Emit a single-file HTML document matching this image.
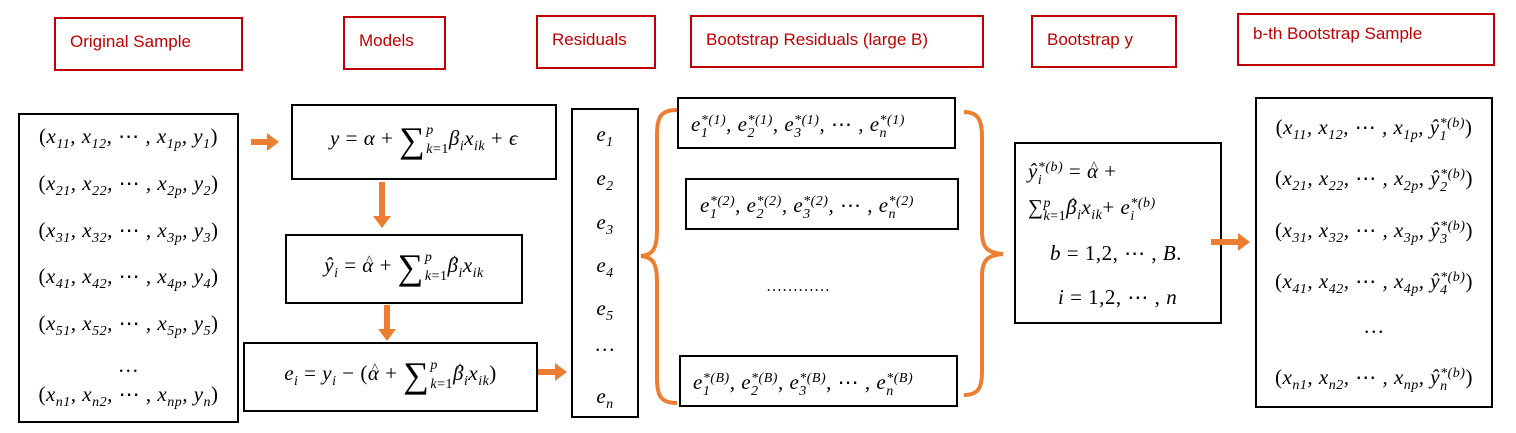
<!DOCTYPE html>
<html><head><meta charset="utf-8"><style>
body{margin:0;background:#fff;}
#c{position:relative;width:1516px;height:433px;overflow:hidden;background:#fff;}
.rb{position:absolute;border:2px solid #c00000;box-sizing:border-box;color:#c00000;font-family:"Liberation Sans",sans-serif;font-size:17px;}
.rb span{position:absolute;left:14px;top:13px;white-space:nowrap;}
.bb{position:absolute;border:2px solid #000;box-sizing:border-box;}
.m{position:absolute;font-family:"Liberation Serif","DejaVu Serif",serif;font-style:italic;font-size:21px;color:#000;white-space:nowrap;line-height:22px;letter-spacing:0.5px;}
.c{text-align:center;}
.m .u{font-style:normal;}
sub,sup{font-size:14px;line-height:0;}
.s{font-style:normal;font-size:36px;vertical-align:-7px;line-height:0;}
.lim{display:inline-block;vertical-align:middle;font-size:14px;line-height:19px;text-align:left;margin-left:1px;}
.ss{display:inline-block;vertical-align:-6px;font-size:14px;line-height:13px;text-align:left;}
.ss i{display:block;font-style:italic;}
.hat{position:relative;display:inline-block;}
.hat::before{content:"^";position:absolute;left:4px;top:-5px;font-style:normal;font-size:13px;}
svg{position:absolute;left:0;top:0;}
</style></head><body>
<div id="c">
<div class="rb" style="left:54px;top:17px;width:189px;height:54px"><span>Original Sample</span></div>
<div class="rb" style="left:343px;top:16px;width:103px;height:54px"><span>Models</span></div>
<div class="rb" style="left:536px;top:15px;width:120px;height:54px"><span>Residuals</span></div>
<div class="rb" style="left:690px;top:15px;width:294px;height:53px"><span>Bootstrap Residuals (large B)</span></div>
<div class="rb" style="left:1031px;top:15px;width:146px;height:53px"><span>Bootstrap y</span></div>
<div class="rb" style="left:1237px;top:13px;width:258px;height:53px"><span style="top:9px">b-th Bootstrap Sample</span></div>

<div class="bb" style="left:18px;top:113px;width:221px;height:310px"></div>
<div class="m c" style="left:18px;width:221px;top:125px"><span class="u">(</span>x<sub>11</sub>, x<sub>12</sub>, <span class="u">⋯</span> , x<sub>1p</sub>, y<sub>1</sub><span class="u">)</span></div>
<div class="m c" style="left:18px;width:221px;top:172px"><span class="u">(</span>x<sub>21</sub>, x<sub>22</sub>, <span class="u">⋯</span> , x<sub>2p</sub>, y<sub>2</sub><span class="u">)</span></div>
<div class="m c" style="left:18px;width:221px;top:219px"><span class="u">(</span>x<sub>31</sub>, x<sub>32</sub>, <span class="u">⋯</span> , x<sub>3p</sub>, y<sub>3</sub><span class="u">)</span></div>
<div class="m c" style="left:18px;width:221px;top:265px"><span class="u">(</span>x<sub>41</sub>, x<sub>42</sub>, <span class="u">⋯</span> , x<sub>4p</sub>, y<sub>4</sub><span class="u">)</span></div>
<div class="m c" style="left:18px;width:221px;top:312px"><span class="u">(</span>x<sub>51</sub>, x<sub>52</sub>, <span class="u">⋯</span> , x<sub>5p</sub>, y<sub>5</sub><span class="u">)</span></div>
<div class="m c" style="left:18px;width:221px;top:354px"><span class="u">…</span></div>
<div class="m c" style="left:18px;width:221px;top:383px"><span class="u">(</span>x<sub>n1</sub>, x<sub>n2</sub>, <span class="u">⋯</span> , x<sub>np</sub>, y<sub>n</sub><span class="u">)</span></div>

<div class="bb" style="left:291px;top:104px;width:266px;height:76px"></div>
<div class="m c" style="left:291px;width:266px;top:121px">y <span class="u">=</span> α <span class="u">+</span> <span class="s">∑</span><span class="lim">p<br>k<span class="u">=1</span></span>β<sub>i</sub>x<sub>ik</sub> <span class="u">+</span> ϵ</div>
<div class="bb" style="left:285px;top:234px;width:238px;height:70px"></div>
<div class="m c" style="left:285px;width:238px;top:248px">ŷ<sub>i</sub> <span class="u">=</span> <span class="hat">α</span> <span class="u">+</span> <span class="s">∑</span><span class="lim">p<br>k<span class="u">=1</span></span><span class="hat">β</span><sub>i</sub>x<sub>ik</sub></div>
<div class="bb" style="left:243px;top:342px;width:295px;height:70px"></div>
<div class="m c" style="left:243px;width:295px;top:356px">e<sub>i</sub> <span class="u">=</span> y<sub>i</sub> <span class="u">− (</span><span class="hat">α</span> <span class="u">+</span> <span class="s">∑</span><span class="lim">p<br>k<span class="u">=1</span></span><span class="hat">β</span><sub>i</sub>x<sub>ik</sub><span class="u">)</span></div>

<div class="bb" style="left:571px;top:108px;width:68px;height:310px"></div>
<div class="m c" style="left:571px;width:68px;top:123px">e<sub>1</sub></div>
<div class="m c" style="left:571px;width:68px;top:167px">e<sub>2</sub></div>
<div class="m c" style="left:571px;width:68px;top:211px">e<sub>3</sub></div>
<div class="m c" style="left:571px;width:68px;top:254px">e<sub>4</sub></div>
<div class="m c" style="left:571px;width:68px;top:297px">e<sub>5</sub></div>
<div class="m c" style="left:571px;width:68px;top:333px"><span class="u">…</span></div>
<div class="m c" style="left:571px;width:68px;top:385px">e<sub>n</sub></div>

<div class="bb" style="left:677px;top:97px;width:279px;height:52px"></div>
<div class="m" style="left:691px;top:113px">e<span class="ss"><i>*(1)</i><i>1</i></span>, e<span class="ss"><i>*(1)</i><i>2</i></span>, e<span class="ss"><i>*(1)</i><i>3</i></span>, <span class="u">⋯</span> , e<span class="ss"><i>*(1)</i><i>n</i></span></div>
<div class="bb" style="left:685px;top:178px;width:274px;height:52px"></div>
<div class="m" style="left:700px;top:194px">e<span class="ss"><i>*(2)</i><i>1</i></span>, e<span class="ss"><i>*(2)</i><i>2</i></span>, e<span class="ss"><i>*(2)</i><i>3</i></span>, <span class="u">⋯</span> , e<span class="ss"><i>*(2)</i><i>n</i></span></div>
<div class="m" style="left:766px;top:276px;font-style:normal;font-size:16px;letter-spacing:0">…………</div>
<div class="bb" style="left:679px;top:355px;width:279px;height:52px"></div>
<div class="m" style="left:693px;top:371px">e<span class="ss"><i>*(B)</i><i>1</i></span>, e<span class="ss"><i>*(B)</i><i>2</i></span>, e<span class="ss"><i>*(B)</i><i>3</i></span>, <span class="u">⋯</span> , e<span class="ss"><i>*(B)</i><i>n</i></span></div>

<div class="bb" style="left:1014px;top:142px;width:208px;height:182px"></div>
<div class="m" style="left:1028px;top:160px">ŷ<span class="ss"><i>*(b)</i><i>i</i></span> <span class="u">=</span> <span class="hat">α</span> <span class="u">+</span></div>
<div class="m" style="left:1028px;top:196px"><span class="u">∑</span><span class="ss"><i>p</i><i>k<span style="font-style:normal">=1</span></i></span><span class="hat">β</span><sub>i</sub>x<sub>ik</sub><span class="u">+</span> e<span class="ss"><i>*(b)</i><i>i</i></span></div>
<div class="m" style="left:1050px;top:242px">b <span class="u">= 1,2, ⋯ ,</span> B<span class="u">.</span></div>
<div class="m" style="left:1058px;top:286px">i <span class="u">= 1,2, ⋯ ,</span> n</div>

<div class="bb" style="left:1255px;top:97px;width:238px;height:311px"></div>
<div class="m c" style="left:1255px;width:238px;top:116px"><span class="u">(</span>x<sub>11</sub>, x<sub>12</sub>, <span class="u">⋯</span> , x<sub>1p</sub>, ŷ<span class="ss"><i>*(b)</i><i>1</i></span><span class="u">)</span></div>
<div class="m c" style="left:1255px;width:238px;top:167px"><span class="u">(</span>x<sub>21</sub>, x<sub>22</sub>, <span class="u">⋯</span> , x<sub>2p</sub>, ŷ<span class="ss"><i>*(b)</i><i>2</i></span><span class="u">)</span></div>
<div class="m c" style="left:1255px;width:238px;top:219px"><span class="u">(</span>x<sub>31</sub>, x<sub>32</sub>, <span class="u">⋯</span> , x<sub>3p</sub>, ŷ<span class="ss"><i>*(b)</i><i>3</i></span><span class="u">)</span></div>
<div class="m c" style="left:1255px;width:238px;top:270px"><span class="u">(</span>x<sub>41</sub>, x<sub>42</sub>, <span class="u">⋯</span> , x<sub>4p</sub>, ŷ<span class="ss"><i>*(b)</i><i>4</i></span><span class="u">)</span></div>
<div class="m c" style="left:1255px;width:238px;top:315px"><span class="u">…</span></div>
<div class="m c" style="left:1255px;width:238px;top:366px"><span class="u">(</span>x<sub>n1</sub>, x<sub>n2</sub>, <span class="u">⋯</span> , x<sub>np</sub>, ŷ<span class="ss"><i>*(b)</i><i>n</i></span><span class="u">)</span></div>

<svg width="1516" height="433">
<g fill="#ed7d31" stroke="none">
<path d="M251,139 h16 v-6 l12,9 l-12,9 v-6 h-16z"/>
<path d="M379,182 h6 v34 h6 l-9,12 l-9,-12 h6z"/>
<path d="M384,305 h6 v24 h6 l-9,12 l-9,-12 h6z"/>
<path d="M538,369 h17 v-6 l12,9 l-12,9 v-6 h-17z"/>
<path d="M1211,239 h27 v-6 l12,9 l-12,9 v-6 h-27z"/>
</g>
<g fill="none" stroke="#ed7d31" stroke-width="4">
<path d="M677,110 C660,110 657,118 657,135 L657,230 C657,250 652,255 641,256 C652,257 657,262 657,282 L657,378 C657,395 660,403 677,403"/>
<path d="M964,112 C978,112 982,120 982,137 L982,232 C982,250 990,253 1003,254 C990,255 982,258 982,276 L982,372 C982,388 978,395 964,395"/>
</g>
</svg>
</div>
</body></html>
